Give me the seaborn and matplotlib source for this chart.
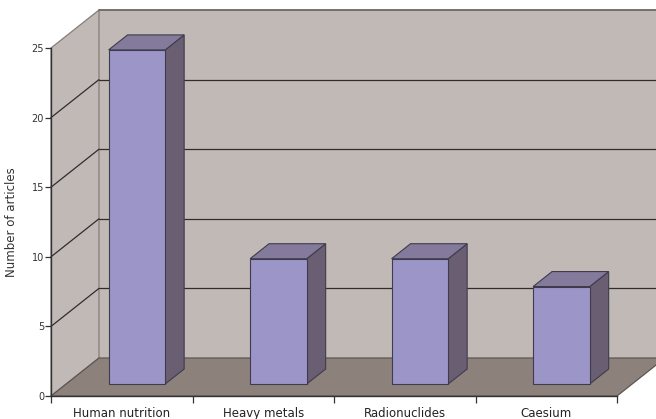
import matplotlib
matplotlib.use("Agg")
import numpy as np
import pandas as pd
import matplotlib.pyplot as plt
import matplotlib.transforms as mtransforms
from matplotlib.patches import Polygon
from matplotlib.lines import Line2D
import seaborn as sns

# ---- data ----
categories = ["Human nutrition", "Heavy metals", "Radionuclides", "Caesium"]
articles = [24, 9, 9, 7]
yticks = [0, 5, 10, 15, 20, 25]
y_label = "Number of articles"

# ---- style ----
WALL = "#C1B9B6"
FLOOR = "#8D817C"
FRONT = "#9C96C8"
SIDE = "#6A5E72"
TOP = "#847B9C"
EDGE = "#3E3C4C"
GRID = "#2E2E2E"
WALL_EDGE = "#857C7B"

sns.set_style("ticks")
plt.rcParams['font.family'] = ['DejaVu Sans']

W, H = 656, 419
fig = plt.figure(figsize=(W / 100, H / 100), dpi=100)
ax_left, ax_right, ax_bottom_px, ax_top_px = 51, 617, 396, 48
ax = fig.add_axes([ax_left / W, (H - ax_bottom_px) / H,
                   (ax_right - ax_left) / W, (ax_bottom_px - ax_top_px) / H])

df = pd.DataFrame({"topic": categories, "n": articles})
sns.barplot(data=df, x="topic", y="n", width=0.4, color=FRONT, saturation=1,
            edgecolor=EDGE, linewidth=0.8, ax=ax, zorder=5)

ncat = len(categories)
x0, x1 = -0.5, ncat - 0.5
ymax = yticks[-1]
ax.set_xlim(x0, x1)
ax.set_ylim(0, ymax)

# depth offsets in data units (oblique projection)
px_per_x = (ax_right - ax_left) / (x1 - x0)
px_per_y = (ax_bottom_px - ax_top_px) / ymax
DX = 48 / px_per_x
DY = 38 / px_per_y

# walls
back = Polygon([(x0 + DX, DY), (x1 + DX + 1, DY), (x1 + DX + 1, ymax + DY), (x0 + DX, ymax + DY)],
               closed=True, facecolor=WALL, edgecolor="none", zorder=0, clip_on=False)
ax.add_patch(back)
side = Polygon([(x0, 0), (x0, ymax), (x0 + DX, ymax + DY), (x0 + DX, DY)],
               closed=True, facecolor=WALL, edgecolor=WALL_EDGE, linewidth=0.9, zorder=0.5, clip_on=False)
ax.add_patch(side)
ax.add_line(Line2D([x0 + DX, x1 + DX + 1], [ymax + DY, ymax + DY], color="#6E6666",
                   linewidth=1.3, zorder=0.6, clip_on=False))

# gridlines on back wall and side wall
for v in yticks[1:-1]:
    ax.add_line(Line2D([x0 + DX, x1 + DX + 1], [v + DY, v + DY], color=GRID,
                       linewidth=0.9, zorder=1, clip_on=False))
    ax.add_line(Line2D([x0, x0 + DX], [v, v + DY], color=GRID,
                       linewidth=0.9, zorder=1, clip_on=False))

# floor
floor = Polygon([(x0, 0), (x1, 0), (x1 + DX, DY), (x0 + DX, DY)], closed=True,
                facecolor=FLOOR, edgecolor="#5E5654", linewidth=0.9, zorder=2, clip_on=False)
ax.add_patch(floor)

# 3D bars
d0 = 12 / 38          # depth position of bar front
dd = 15 / 38          # bar depth
off = mtransforms.Affine2D().translate(d0 * DX, d0 * DY) + ax.transData
bdx, bdy = dd * DX, dd * DY
for p in ax.patches:
    if p in (back, side, floor):
        continue
    bx, bw, bh = p.get_x(), p.get_width(), p.get_height()
    p.set_transform(off)
    p.set_clip_on(False)
    sidep = Polygon([(bx + bw, 0), (bx + bw, bh), (bx + bw + bdx, bh + bdy), (bx + bw + bdx, bdy)],
                    closed=True, facecolor=SIDE, edgecolor=EDGE, linewidth=0.8,
                    transform=off, zorder=4, clip_on=False)
    topp = Polygon([(bx, bh), (bx + bw, bh), (bx + bw + bdx, bh + bdy), (bx + bdx, bh + bdy)],
                   closed=True, facecolor=TOP, edgecolor=EDGE, linewidth=0.8,
                   transform=off, zorder=4, clip_on=False)
    ax.add_patch(sidep)
    ax.add_patch(topp)

# axes / ticks
for s in ["top", "right"]:
    ax.spines[s].set_visible(False)
for s in ["left", "bottom"]:
    ax.spines[s].set_color("#333333")
    ax.spines[s].set_linewidth(1.0)
    ax.spines[s].set_zorder(6)

ax.set_yticks(yticks)
ax.set_yticklabels([str(t) for t in yticks], fontsize=7, color="#333333")
ax.tick_params(axis="y", which="major", length=4, width=0.9, color="#333333", pad=1, left=True)

ax.set_xticks(range(ncat))
ax.set_xticklabels(categories, fontsize=8.5, color="#222222")
ax.tick_params(axis="x", which="major", length=0, pad=8)
ax.set_xticks(np.arange(x0, x1 + 0.01, 1), minor=True)
ax.tick_params(axis="x", which="minor", length=5, width=0.9, color="#333333", bottom=True)

ax.set_xlabel("")
ax.set_ylabel(y_label, fontsize=8.5, color="#333333", labelpad=9.5)

fig.savefig("out.png", dpi=100)
